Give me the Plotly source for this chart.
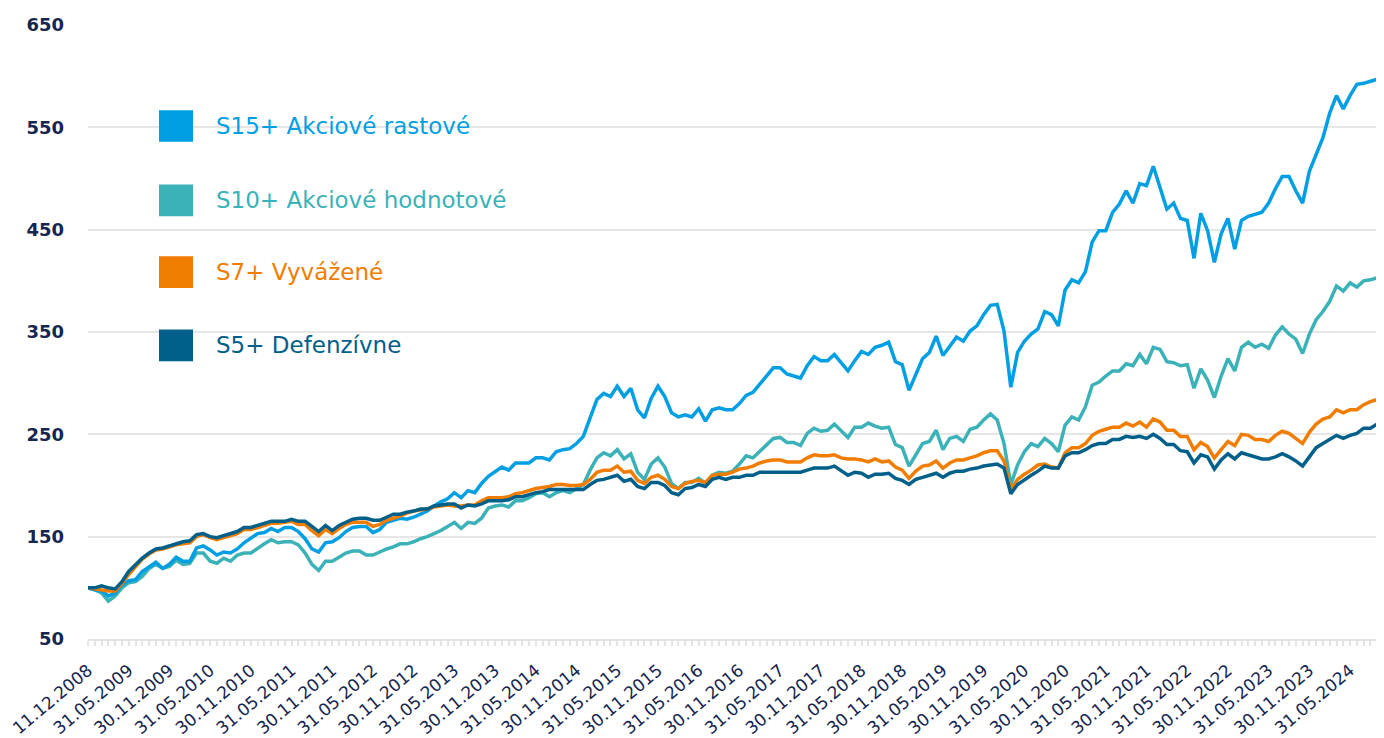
import calendar
import plotly.graph_objects as go

# ---- data (index values, base 100 at 11.12.2008, then month-end values) ----
s15 = [
    100, 98, 97, 92, 95, 103, 107, 108, 116, 121, 125, 119,
    123, 130, 126, 126, 139, 141, 137, 132, 135, 134, 138, 144,
    148, 153, 154, 158, 155, 159, 159, 155, 148, 138, 135, 144,
    145, 149, 155, 159, 160, 160, 154, 157, 164, 166, 168, 167,
    169, 172, 175, 180, 184, 187, 193, 188, 195, 193, 202, 209,
    214, 218, 215, 222, 222, 222, 227, 227, 225, 233, 235, 236,
    241, 248, 266, 284, 290, 287, 297, 287, 295, 274, 266, 285,
    297, 287, 271, 267, 269, 267, 275, 263, 274, 276, 274, 274,
    280, 288, 291, 299, 308, 315, 315, 309, 307, 305, 317, 326,
    322, 322, 328, 320, 312, 322, 331, 328, 335, 337, 340, 321,
    318, 293, 309, 324, 330, 346, 327, 336, 345, 341, 351, 356,
    367, 376, 377, 351, 296, 330, 341, 348, 353, 370, 367, 356,
    391, 401, 398, 409, 438, 449, 449, 467, 475, 488, 476, 495,
    493, 512, 491, 470, 476, 461, 459, 422, 466, 449, 418, 446,
    461, 431, 459, 463, 465, 467, 476, 490, 502, 502, 488, 476,
    507, 523, 540, 564, 581, 568, 581, 592, 593, 595, 597, 590,
]
s10 = [
    100, 98, 95, 87, 92, 100, 105, 106, 111, 119, 123, 119,
    121, 127, 123, 124, 134, 134, 126, 124, 129, 126, 132, 134,
    134, 139, 143, 147, 144, 145, 145, 142, 134, 123, 117, 126,
    126, 130, 134, 136, 136, 132, 132, 135, 138, 140, 143, 143,
    145, 148, 150, 153, 156, 160, 164, 158, 164, 163, 168, 178,
    180, 181, 179, 185, 185, 188, 192, 193, 189, 193, 195, 193,
    197, 201, 215, 227, 232, 229, 235, 226, 231, 213, 206, 221,
    227, 218, 202, 197, 203, 203, 207, 202, 210, 213, 212, 214,
    221, 229, 227, 233, 240, 246, 247, 242, 242, 239, 251, 256,
    253, 254, 260, 253, 247, 257, 257, 261, 258, 256, 257, 240,
    237, 219, 230, 241, 243, 254, 235, 246, 248, 243, 255, 257,
    264, 270, 264, 241, 201, 220, 233, 241, 238, 246, 241, 233,
    259, 267, 264, 277, 298, 301, 307, 312, 312, 319, 317, 328,
    319, 335, 333, 321, 320, 317, 318, 295, 314, 303, 286, 307,
    324, 312, 335, 340, 335, 338, 334, 347, 355, 348, 343, 329,
    348, 362, 370, 380, 395, 390, 398, 394, 400, 401, 403, 398,
]
s7 = [
    100, 99, 98, 97, 97, 104, 113, 121, 128, 133, 137, 138,
    140, 142, 143, 144, 150, 152, 149, 147, 149, 151, 153, 157,
    157, 159, 161, 163, 163, 164, 165, 162, 162, 156, 151, 157,
    153, 158, 162, 164, 164, 164, 160, 162, 166, 168, 170, 173,
    175, 176, 177, 179, 180, 181, 180, 180, 181, 181, 185, 188,
    188, 188, 189, 192, 193, 195, 197, 198, 199, 201, 201, 200,
    200, 201, 206, 213, 215, 215, 219, 213, 214, 205, 202, 208,
    210, 206, 199, 197, 202, 204, 205, 203, 210, 211, 211, 213,
    216, 217, 219, 222, 224, 225, 225, 223, 223, 223, 227, 230,
    229, 229, 230, 227, 226, 226, 225, 223, 226, 223, 224, 218,
    215, 207, 214, 219, 220, 224, 217, 222, 225, 225, 227, 229,
    232, 234, 234, 224, 196, 206, 211, 215, 220, 221, 218, 217,
    232, 237, 237, 241, 249, 253, 255, 257, 257, 261, 258, 262,
    257, 265, 262, 254, 254, 248, 248, 235, 242, 238, 227, 235,
    243, 239, 250, 249, 245, 245, 243, 249, 253, 251, 246, 241,
    252, 260, 265, 267, 274, 271, 274, 274, 279, 282, 284, 282,
]
s5 = [
    100, 100, 102, 100, 99, 106, 116, 123, 129, 134, 138, 139,
    141, 143, 145, 146, 152, 153, 150, 149, 151, 153, 155, 159,
    159, 161, 163, 165, 165, 165, 167, 165, 165, 160, 155, 161,
    156, 161, 164, 167, 168, 168, 166, 166, 169, 172, 172, 174,
    175, 177, 177, 180, 181, 182, 182, 178, 181, 180, 182, 185,
    185, 185, 186, 189, 189, 191, 193, 194, 196, 196, 196, 196,
    196, 196, 201, 205, 206, 208, 210, 204, 206, 199, 197, 203,
    203, 200, 193, 191, 197, 198, 201, 199, 206, 208, 206, 208,
    208, 210, 210, 213, 213, 213, 213, 213, 213, 213, 215, 217,
    217, 217, 219, 214, 210, 213, 212, 208, 211, 211, 212, 207,
    205, 201, 206, 208, 210, 212, 208, 212, 214, 214, 216, 217,
    219, 220, 221, 217, 192, 201, 206, 210, 214, 219, 217, 217,
    229, 232, 232, 235, 239, 241, 241, 245, 245, 248, 247, 248,
    246, 250, 246, 240, 240, 234, 233, 222, 230, 228, 216, 225,
    231, 226, 232, 230, 228, 226, 226, 228, 231, 228, 224, 219,
    228, 237, 241, 245, 249, 246, 249, 251, 256, 256, 260, 258,
]

series_names = ["S15+ Akciové rastové", "S10+ Akciové hodnotové", "S7+ Vyvážené", "S5+ Defenzívne"]
series_colors = ["#009fe3", "#3ab2b7", "#f07d00", "#00608a"]
y_ticks = [50, 150, 250, 350, 450, 550, 650]

# ---- categories: start date, then month ends ----
n = len(s15)
dates = ["11.12.2008"]
y, m = 2008, 12
while len(dates) < n:
    last = calendar.monthrange(y, m)[1]
    dates.append(f"{last:02d}.{m:02d}.{y}")
    m += 1
    if m > 12:
        m, y = 1, y + 1
tick_labels = [d if i % 6 == 0 else "" for i, d in enumerate(dates)]

NAVY = "#16264f"
FONT = "DejaVu Sans"

fig = go.Figure()
order = [1, 0, 2, 3]  # teal, light blue, orange, dark blue on top
values = [s15, s10, s7, s5]
for k in order:
    fig.add_trace(go.Scatter(
        x=dates, y=values[k], mode="lines", name=series_names[k],
        line=dict(color=series_colors[k], width=3.5),
        showlegend=False, hoverinfo="skip",
    ))

# page body has an 8px margin: figure origin sits at (8, 8) in the window
OFF = 8
W, H = 1384 - OFF, 738 - OFF
L, R, T, B = 88 - OFF, 1384 - OFF, 25 - OFF, 645 - OFF   # plot area in figure px


def px(xp):  # window px -> paper
    return (xp - OFF - L) / (R - L)


def py(yp):
    return (B - (yp - OFF)) / (B - T)


legend_centers = [127, 202, 274.5, 348.5]
for name, col, cy in zip(series_names, series_colors, legend_centers):
    fig.add_shape(type="rect", xref="paper", yref="paper",
                  x0=px(159), x1=px(193), y0=py(cy + 16), y1=py(cy - 16),
                  fillcolor=col, line=dict(width=0), layer="above")
    fig.add_annotation(xref="paper", yref="paper", x=px(214), y=py(cy),
                       text=name, showarrow=False, xanchor="left", yanchor="middle",
                       font=dict(family=FONT, size=23, color=col))

fig.update_layout(
    width=W, height=H,
    margin=dict(l=L, r=W - R, t=T, b=H - B),
    paper_bgcolor="white", plot_bgcolor="white",
    showlegend=False,
    xaxis=dict(
        type="category", range=[0, n - 1],
        tickmode="array", tickvals=dates, ticktext=tick_labels,
        tickangle=-40, ticks="outside", ticklen=5, tickwidth=2, tickcolor="#e3e3e3",
        ticklabelstandoff=8,
        showgrid=False, showline=True, linecolor="#e3e3e3", linewidth=2,
        tickfont=dict(family=FONT, size=17, color=NAVY),
        zeroline=False,
    ),
    yaxis=dict(
        range=[50, 650], tickmode="array", tickvals=y_ticks,
        showgrid=True, gridcolor="#e6e6e6", gridwidth=2,
        zeroline=False, showline=False, ticks="",
        ticklabelstandoff=23,
        tickfont=dict(family=FONT, size=18, color=NAVY, weight="bold"),
    ),
)

fig.write_html("out.html")
